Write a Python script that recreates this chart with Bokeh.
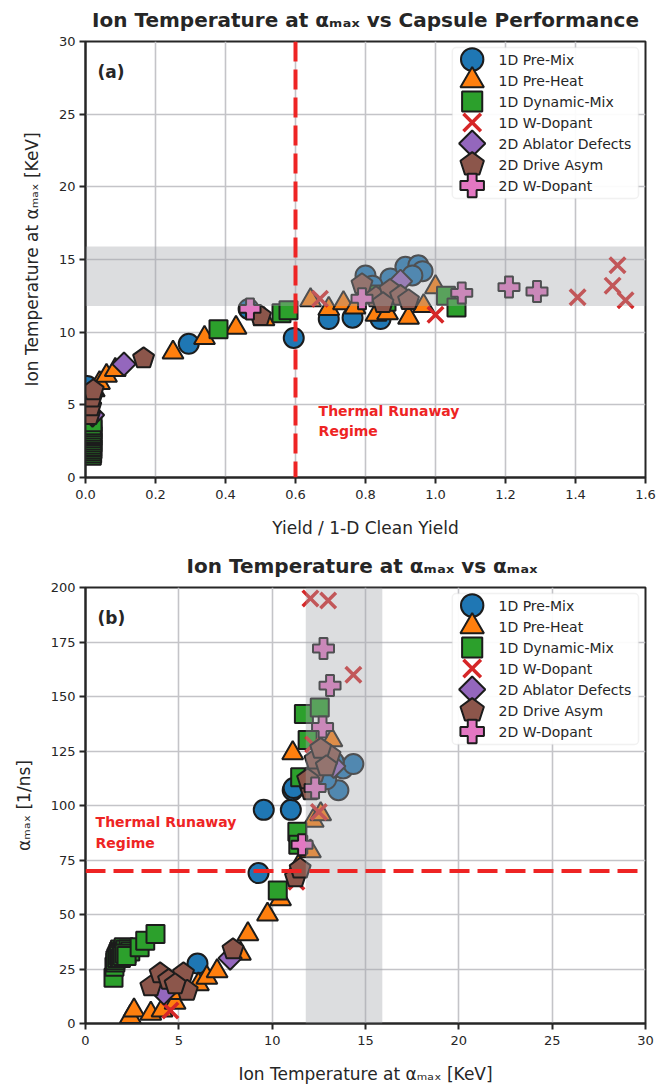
import numpy as np
from bokeh.plotting import figure
from bokeh.models import Range1d, BoxAnnotation, Span, Label, FixedTicker, PrintfTickFormatter
from bokeh.layouts import column
from bokeh.embed import file_html
from bokeh.resources import INLINE

# ---------------- data ----------------
legend_labels = ["1D Pre-Mix", "1D Pre-Heat", "1D Dynamic-Mix", "1D W-Dopant",
                 "2D Ablator Defects", "2D Drive Asym", "2D W-Dopant"]
series_colors = ["#1f77b4", "#ff7f0e", "#2ca02c", "#d62728", "#9467bd", "#8c564b", "#e377c2"]
series_kinds = ["circle", "triangle", "square", "x", "diamond", "pentagon", "plus"]

# Panel (a): yield ratio vs ion temperature at alpha_max
premix_yield_a = [0.005, 0.295, 0.466, 0.595, 0.695, 0.763, 0.843, 0.80, 0.871, 0.914, 0.951, 0.963, 0.934, 0.82]
premix_ti_a = [6.3, 9.2, 11.6, 9.6, 10.9, 11.0, 10.9, 13.9, 13.7, 14.5, 14.6, 14.2, 13.9, 13.2]
preheat_yield_a = [0.012, 0.025, 0.04, 0.06, 0.085, 0.25, 0.34, 0.43, 0.51, 0.643, 0.695, 0.737, 0.77, 0.83, 0.863, 0.923, 0.966, 1.0]
preheat_ti_a = [5.3, 6.0, 6.5, 7.0, 7.4, 8.6, 9.6, 10.3, 10.9, 12.2, 11.6, 12.0, 11.7, 11.2, 11.3, 11.0, 11.8, 13.1]
dynmix_yield_a = [0.018, 0.019, 0.018, 0.02, 0.019, 0.018, 0.02, 0.019, 0.018, 0.02, 0.019, 0.018, 0.02,
                  0.019, 0.018, 0.02, 0.38, 0.56, 0.58, 0.82, 0.86, 1.03, 1.06]
dynmix_ti_a = [1.5, 1.65, 1.8, 1.95, 2.1, 2.25, 2.4, 2.55, 2.7, 2.85, 3.0, 3.15, 3.3, 3.45, 3.6, 3.8,
               10.2, 11.3, 11.5, 12.6, 12.1, 12.5, 11.7]
wdop1d_yield_a = [0.67, 1.0, 1.406, 1.506, 1.52, 1.543]
wdop1d_ti_a = [12.3, 11.2, 12.4, 13.2, 14.6, 12.2]
ablator_yield_a = [0.02, 0.11, 0.90]
ablator_ti_a = [4.3, 7.8, 13.5]
drive_yield_a = [0.012, 0.015, 0.018, 0.022, 0.166, 0.50, 0.79, 0.83, 0.87, 0.90, 0.923, 0.85]
drive_ti_a = [4.3, 4.9, 5.5, 6.0, 8.2, 11.1, 13.3, 12.4, 12.9, 12.5, 12.2, 12.0]
wdop2d_yield_a = [0.47, 0.79, 1.075, 1.21, 1.29]
wdop2d_ti_a = [11.6, 12.3, 12.7, 13.1, 12.8]

# Panel (b): ion temperature vs alpha_max
premix_ti_b = [2.0, 6.0, 9.27, 9.55, 11.0, 11.1, 11.15, 13.55, 13.8, 14.35, 13.3, 12.9]
premix_alpha_b = [31, 27.5, 69, 98, 98, 107, 108, 107, 117, 119, 120, 112]
preheat_ti_b = [2.4, 2.6, 3.5, 4.1, 4.8, 5.0, 6.05, 6.5, 7.05, 8.3, 8.7, 9.75, 10.45, 11.4, 12.05, 12.2, 11.1, 13.2, 12.6]
preheat_alpha_b = [3, 6, 4.5, 6, 9.5, 14, 18, 21, 24, 32, 41, 50, 57, 72, 79, 93, 124, 130, 96]
dynmix_ti_b = [1.5, 1.55, 1.6, 1.65, 1.7, 1.75, 1.8, 1.85, 1.9, 1.95, 2.0, 2.05, 2.1, 2.15, 2.2, 2.3, 2.4,
               1.6, 1.7, 1.8, 1.9, 2.0, 2.1, 2.2, 2.9, 3.2, 3.75, 10.3, 11.35, 11.4, 11.5, 11.9, 11.7, 12.55]
dynmix_alpha_b = [21, 26, 28, 30, 31, 32, 33, 34, 32, 33, 34, 35, 33, 34, 32, 34, 33,
                  29, 30, 31, 30, 31, 32, 31, 35, 38, 41, 61, 88, 82, 113, 130, 142, 145]
wdop1d_ti_b = [4.55, 11.3, 12.5, 12.2, 14.35, 12.05, 13.0]
wdop1d_alpha_b = [6, 65, 97, 128, 160, 195, 194]
ablator_ti_b = [4.2, 7.75, 13.3]
ablator_alpha_b = [14, 30, 118]
drive_ti_b = [3.5, 4.0, 4.45, 5.25, 5.45, 4.8, 7.9, 11.25, 11.5, 12.05, 12.3, 12.3, 13.1, 12.6, 12.9, 11.9]
drive_alpha_b = [17, 23, 20, 23, 15, 18, 34, 67, 71, 107, 115, 121, 123, 126, 118, 112]
wdop2d_ti_b = [11.6, 12.3, 12.7, 13.1, 12.75]
wdop2d_alpha_b = [82, 108, 136, 155, 172]

# reference lines / bands
runaway_yield = 0.6
runaway_alpha = 70
ti_band = (11.8, 15.9)

xticks_a = [0.0, 0.2, 0.4, 0.6, 0.8, 1.0, 1.2, 1.4, 1.6]
yticks_a = [0, 5, 10, 15, 20, 25, 30]
xticks_b = [0, 5, 10, 15, 20, 25, 30]
yticks_b = [0, 25, 50, 75, 100, 125, 150, 175, 200]

titles = ["Ion Temperature at \u03b1\u2098\u2090\u2093 vs Capsule Performance",
          "Ion Temperature at \u03b1\u2098\u2090\u2093 vs  \u03b1\u2098\u2090\u2093"]
xlabels = ["Yield / 1-D Clean Yield", "Ion Temperature at \u03b1\u2098\u2090\u2093 [KeV]"]
ylabels = ["Ion Temperature at \u03b1\u2098\u2090\u2093 [KeV]", "\u03b1\u2098\u2090\u2093 [1/ns]"]
panel_tags = ["(a)", "(b)"]
runaway_text = "Thermal Runaway\nRegime"

# ---------------- style ----------------
FONT = "DejaVu Sans"
INK = "#262626"
EDGE = "#1c1c1c"
RED = "#ee2424"


def make_fig(xr, yr, title, xlabel, ylabel, xticks, yticks, xfmt=None, bottom=68, top=41):
    p = figure(width=657, height=545, x_range=Range1d(*xr), y_range=Range1d(*yr),
               output_backend="svg", toolbar_location=None,
               min_border_left=85, min_border_right=12, min_border_top=top, min_border_bottom=bottom)
    p.title.text = title
    p.title.align = "center"
    p.title.vertical_align = "top"
    p.title.text_font = FONT
    p.title.text_font_size = "20px"
    p.title.text_font_style = "bold"
    p.title.text_color = INK
    p.title.standoff = 15
    p.background_fill_color = "white"
    p.border_fill_color = "white"
    p.outline_line_color = INK
    p.outline_line_width = 2
    for ax, ticks, lab in ((p.xaxis[0], xticks, xlabel), (p.yaxis[0], yticks, ylabel)):
        ax.ticker = FixedTicker(ticks=ticks)
        ax.axis_label = lab
        ax.axis_label_text_font = FONT
        ax.axis_label_text_font_size = "17px"
        ax.axis_label_text_font_style = "normal"
        ax.axis_label_text_color = INK
        ax.major_label_text_font = FONT
        ax.major_label_text_font_size = "13px"
        ax.major_label_text_color = INK
        ax.axis_line_color = INK
        ax.axis_line_width = 2
        ax.major_tick_line_color = INK
        ax.major_tick_line_width = 2
        ax.major_tick_out = 6
        ax.major_tick_in = 0
        ax.minor_tick_line_color = None
    p.xaxis.major_label_standoff = 6
    p.xaxis.axis_label_standoff = 16
    p.yaxis.major_label_standoff = 4
    p.yaxis.axis_label_standoff = 14
    if xfmt:
        p.xaxis.formatter = PrintfTickFormatter(format=xfmt)
    for g, ticks in ((p.xgrid[0], xticks), (p.ygrid[0], yticks)):
        g.ticker = FixedTicker(ticks=ticks)
        g.grid_line_color = "#c4c4c8"
        g.grid_line_width = 1.6
    p.extra_x_ranges = {"lx": Range1d(0, 1)}
    p.extra_y_ranges = {"ly": Range1d(0, 1)}
    return p


def add_series(p, kind, color, xs, ys, scale=1.0, **rng):
    lw = 2
    if kind == "circle":
        p.scatter(xs, ys, marker="circle", size=20 * scale, fill_color=color, line_color=EDGE, line_width=lw, **rng)
    elif kind == "triangle":
        p.scatter(xs, ys, marker="triangle", size=21 * scale, fill_color=color, line_color=EDGE, line_width=lw, **rng)
    elif kind == "square":
        p.scatter(xs, ys, marker="square", size=18 * scale, fill_color=color, line_color=EDGE, line_width=lw, **rng)
    elif kind == "x":
        p.scatter(xs, ys, marker="x", size=22 * scale, line_color=color, line_width=3.5, **rng)
    elif kind == "diamond":
        p.scatter(xs, ys, marker="square", angle=np.pi / 4, size=16.5 * scale, fill_color=color,
                  line_color=EDGE, line_width=lw, **rng)
    elif kind == "pentagon":
        if hasattr(p, "ngon"):
            p.ngon(x=xs, y=ys, radius=11 * scale, radius_units="screen", n=5, angle=0,
                   fill_color=color, line_color=EDGE, line_width=lw, **rng)
        else:
            p.scatter(xs, ys, marker="hex", size=20 * scale, fill_color=color, line_color=EDGE, line_width=lw, **rng)
    elif kind == "plus":
        p.scatter(xs, ys, marker="plus", size=21 * scale, fill_color=color, line_color=EDGE, line_width=lw, **rng)


def add_legend(p):
    p.add_layout(BoxAnnotation(left=0.655, right=0.9875, top=0.986, bottom=0.640,
                               x_range_name="lx", y_range_name="ly",
                               fill_color="white", fill_alpha=0.92, line_color="#cfcfcf",
                               line_width=1.5, border_radius=4, level="underlay"))
    for i, (lab, col, kind) in enumerate(zip(legend_labels, series_colors, series_kinds)):
        yy = 1 - (18 + 21 * i) / 436.0
        add_series(p, kind, col, [0.6905], [yy], scale=1.12, x_range_name="lx", y_range_name="ly")
        p.add_layout(Label(x=0.7375, y=yy, text=lab, x_range_name="lx", y_range_name="ly",
                           text_font=FONT, text_font_size="14px", text_color=INK,
                           text_baseline="middle", text_align="left"))


def add_tag(p, tag):
    p.add_layout(Label(x=0.0214, y=0.93, text=tag, x_range_name="lx", y_range_name="ly",
                       text_font=FONT, text_font_size="17px", text_font_style="bold",
                       text_color=INK, text_baseline="middle", text_align="left"))


# ---------------- panel (a) ----------------
p1 = make_fig((0, 1.6), (0, 30), titles[0], xlabels[0], ylabels[0], xticks_a, yticks_a, xfmt="%.1f")
data_a = [(premix_yield_a, premix_ti_a), (preheat_yield_a, preheat_ti_a), (dynmix_yield_a, dynmix_ti_a),
          (wdop1d_yield_a, wdop1d_ti_a), (ablator_yield_a, ablator_ti_a), (drive_yield_a, drive_ti_a),
          (wdop2d_yield_a, wdop2d_ti_a)]
for (xs, ys), col, kind in zip(data_a, series_colors, series_kinds):
    add_series(p1, kind, col, xs, ys)
p1.add_layout(BoxAnnotation(bottom=ti_band[0], top=ti_band[1], fill_color="#a3a6ac", fill_alpha=0.38,
                            line_color=None))
p1.add_layout(Span(location=runaway_yield, dimension="height", line_color=RED, line_width=4, line_dash="20 8"))
p1.add_layout(Label(x=0.666, y=5.15, text=runaway_text, text_font=FONT, text_font_size="14px",
                    text_font_style="bold", text_color=RED, text_baseline="top", text_align="left",
                    text_line_height=1.3))
add_legend(p1)
add_tag(p1, panel_tags[0])

# ---------------- panel (b) ----------------
p2 = make_fig((0, 30), (0, 200), titles[1], xlabels[1], ylabels[1], xticks_b, yticks_b, bottom=67, top=42)
data_b = [(premix_ti_b, premix_alpha_b), (preheat_ti_b, preheat_alpha_b), (dynmix_ti_b, dynmix_alpha_b),
          (wdop1d_ti_b, wdop1d_alpha_b), (ablator_ti_b, ablator_alpha_b), (drive_ti_b, drive_alpha_b),
          (wdop2d_ti_b, wdop2d_alpha_b)]
for (xs, ys), col, kind in zip(data_b, series_colors, series_kinds):
    add_series(p2, kind, col, xs, ys)
p2.add_layout(BoxAnnotation(left=ti_band[0], right=ti_band[1], fill_color="#a3a6ac", fill_alpha=0.38,
                            line_color=None))
p2.add_layout(Span(location=runaway_alpha, dimension="width", line_color=RED, line_width=4, line_dash="20 8"))
p2.add_layout(Label(x=0.54, y=96, text=runaway_text, text_font=FONT, text_font_size="14px",
                    text_font_style="bold", text_color=RED, text_baseline="top", text_align="left",
                    text_line_height=1.3))
add_legend(p2)
add_tag(p2, panel_tags[1])

layout = column(p1, p2, spacing=0)
open("out.html", "w").write(file_html(layout, INLINE))
